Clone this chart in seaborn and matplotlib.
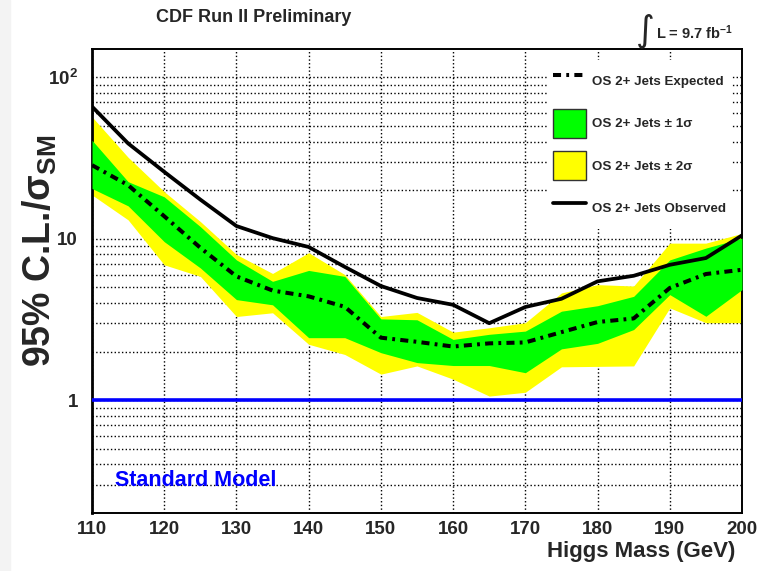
import matplotlib
matplotlib.use("Agg")
import matplotlib.pyplot as plt
from matplotlib.patches import Patch, Rectangle
from matplotlib.lines import Line2D
from matplotlib.ticker import FixedLocator, FixedFormatter, LogLocator, NullFormatter, MultipleLocator
import seaborn as sns

# Higgs mass points (GeV)
mass = [110, 115, 120, 125, 130, 135, 140, 145, 150, 155,
        160, 165, 170, 175, 180, 185, 190, 195, 200]

# 95% CL limits / sigma_SM
observed = [66, 39, 26, 17.5, 12, 10.1, 8.9, 6.7, 5.1, 4.3,
            3.9, 3.0, 3.78, 4.25, 5.45, 5.9, 6.9, 7.6, 10.5]
expected = [28.6, 21.5, 13.8, 8.8, 5.85, 4.78, 4.4, 3.79, 2.44, 2.3,
            2.15, 2.25, 2.28, 2.64, 3.05, 3.21, 4.96, 6.05, 6.43]
one_sig_hi = [40.8, 22.6, 18.2, 11.9, 7.4, 5.45, 6.37, 5.85, 3.19, 3.15,
              2.38, 2.56, 2.68, 3.56, 3.85, 4.4, 7.4, 8.76, 10.1]
one_sig_lo = [20.5, 16.0, 9.6, 6.6, 4.2, 3.9, 2.44, 2.44, 1.97, 1.71,
              1.64, 1.64, 1.48, 2.08, 2.25, 2.74, 4.51, 3.31, 4.84]
two_sig_hi = [57, 32, 19.6, 12.8, 8.0, 6.1, 8.2, 6.0, 3.3, 3.5,
              2.64, 2.81, 3.02, 4.62, 5.2, 5.1, 9.4, 9.4, 10.8]
two_sig_lo = [18.7, 13.1, 6.9, 5.85, 3.3, 3.48, 2.22, 1.92, 1.45, 1.63,
              1.35, 1.06, 1.12, 1.61, 1.62, 1.63, 3.73, 3.02, 3.02]

sns.set_theme(style="white")
plt.rcParams['font.family'] = ['Liberation Sans', 'DejaVu Sans']
plt.rcParams['mathtext.fontset'] = 'custom'
plt.rcParams['mathtext.rm'] = 'Liberation Sans'
plt.rcParams['mathtext.bf'] = 'Liberation Sans:bold'
plt.rcParams['mathtext.it'] = 'Liberation Sans:italic'

W, H = 765, 571
fig = plt.figure(figsize=(W / 100, H / 100), dpi=100)
fig.patches.append(Rectangle((0, 0), 10 / W, 1, transform=fig.transFigure,
                             color='#f3f3f3', zorder=0))
ax = fig.add_axes([92 / W, 1 - 513 / H, 650 / W, 464 / H])

# bands
ax.fill_between(mass, two_sig_lo, two_sig_hi, color='#ffff00', lw=0, zorder=2)
ax.fill_between(mass, one_sig_lo, one_sig_hi, color='#00ff00', lw=0, zorder=3)

# lines
dashdot = (0, (2, 1.3, 0.7, 1.3))
sns.lineplot(x=mass, y=expected, ax=ax, color='black', lw=2.9,
             linestyle=dashdot, zorder=4)
sns.lineplot(x=mass, y=observed, ax=ax, color='black', lw=2.7, zorder=5)
ax.axhline(1, color='#0000ff', lw=2.6, zorder=5)

ax.set_yscale('log')
ax.set_xlim(110, 200)
ax.set_ylim(0.2, 150)

# ticks
ax.xaxis.set_major_locator(MultipleLocator(10))
ax.xaxis.set_minor_locator(MultipleLocator(2))
ax.yaxis.set_major_locator(FixedLocator([1, 10, 100]))
ax.yaxis.set_major_formatter(FixedFormatter(['1', '10', r'10$^{\mathbf{2}}$']))
ax.yaxis.set_minor_locator(LogLocator(base=10, subs=range(2, 10)))
ax.yaxis.set_minor_formatter(NullFormatter())
ax.tick_params(which='both', direction='in', top=False, right=False,
               color='black', width=1)
ax.tick_params(which='major', length=12)
ax.tick_params(which='minor', length=6)
ax.tick_params(axis='x', which='major', pad=6, labelsize=13.5)
ax.tick_params(axis='y', which='major', pad=10, labelsize=13.5)
for lab in ax.get_xticklabels() + ax.get_yticklabels():
    lab.set_fontweight('bold')

# grid
ax.grid(True, which='major', axis='x', ls=':', color='black', lw=1)
ax.grid(True, which='both', axis='y', ls=':', color='black', lw=1)
ax.set_axisbelow(True)

for s in ax.spines.values():
    s.set_color('black')
    s.set_linewidth(1.4)
ax.spines['left'].set_linewidth(2)

ax.set_xlabel('')
ax.set_ylabel('')

# legend
h_exp = Line2D([], [], color='black', lw=2.9, linestyle=dashdot)
h_1s = Patch(facecolor='#00ff00', edgecolor='#333333', lw=1)
h_2s = Patch(facecolor='#ffff00', edgecolor='#333333', lw=1)
h_obs = Line2D([], [], color='black', lw=2.7)
ax.legend([h_exp, h_1s, h_2s, h_obs],
          ['OS 2+ Jets Expected', 'OS 2+ Jets \u00b1 1\u03c3',
           'OS 2+ Jets \u00b1 2\u03c3', 'OS 2+ Jets Observed'],
          loc='upper left', bbox_to_anchor=(547 / W, 1 - 60 / H),
          bbox_transform=fig.transFigure, frameon=True, fancybox=False,
          facecolor='white', edgecolor='none', framealpha=1,
          prop={'size': 9.6, 'weight': 'bold'}, handlelength=2.45,
          handleheight=3.0, labelspacing=1.0, borderpad=0.45,
          handletextpad=0.45, borderaxespad=0)

ax.text(113.2, 0.32, 'Standard Model', color='#0000ff', fontsize=15.5,
        fontweight='bold', ha='left', va='center', zorder=6)

# labels and annotations
fig.text(735 / W, 1 - 552 / H, 'Higgs Mass (GeV)', ha='right', va='center',
         fontsize=16, fontweight='bold')
fig.text(40 / W, 1 - 251 / H, r'95% C.L./$\mathbf{\sigma_{SM}}$', rotation=90,
         ha='center', va='center', fontsize=27, fontweight='bold')
fig.text(254 / W, 1 - 18 / H, 'CDF Run II Preliminary', ha='center',
         va='center', fontsize=13, fontweight='bold')
fig.text(645 / W, 1 - 31 / H, '\u222b', ha='center', va='center',
         fontsize=26, family=['DejaVu Sans'])
fig.text(656 / W, 1 - 33 / H, r'L = 9.7 fb$^{\mathbf{-1}}$', ha='left',
         va='center', fontsize=10.5, fontweight='bold')

fig.savefig('out.png', dpi=100)
